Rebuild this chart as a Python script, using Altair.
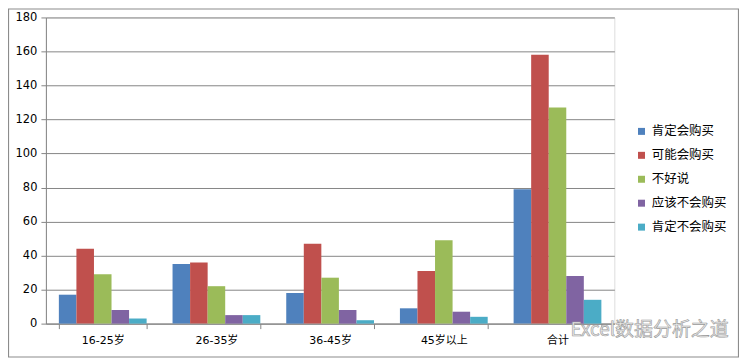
import altair as alt
import pandas as pd

groups = ["16-25岁", "26-35岁", "36-45岁", "45岁以上", "合计"]
series = ["肯定会购买", "可能会购买", "不好说", "应该不会购买", "肯定不会购买"]
colors = ["#4F81BD", "#C0504D", "#9BBB59", "#8064A2", "#4BACC6"]

v_kending = [17, 35, 18, 9, 79]
v_keneng = [44, 36, 47, 31, 158]
v_buhaoshuo = [29, 22, 27, 49, 127]
v_yinggaibu = [8, 5, 8, 7, 28]
v_kendingbu = [3, 5, 2, 4, 14]
all_vals = [v_kending, v_keneng, v_buhaoshuo, v_yinggaibu, v_kendingbu]

rows = []
for s, vals in zip(series, all_vals):
    for g, v in zip(groups, vals):
        rows.append({"group": g, "series": s, "value": v})
df = pd.DataFrame(rows)

FONT = "DejaVu Sans, Noto Sans CJK SC, sans-serif"
W, H = 570, 307

bars = alt.Chart(df).mark_bar(size=17.6, strokeWidth=0).encode(
    x=alt.X("group:N", sort=groups,
            scale=alt.Scale(paddingInner=0.228, paddingOuter=0.114),
            axis=alt.Axis(title=None, labelAngle=0, tickBand="extent", tickSize=5,
                          labelPadding=6, domainColor="#868686", tickColor="#868686",
                          labelFontSize=11, labelColor="#000000", labelFont=FONT, grid=False)),
    xOffset=alt.XOffset("series:N", sort=series, scale=alt.Scale(paddingInner=0, paddingOuter=0)),
    y=alt.Y("value:Q", scale=alt.Scale(domain=[0, 180], nice=False),
            axis=alt.Axis(title=None, values=list(range(0, 181, 20)), tickSize=5,
                          labelPadding=4, domainColor="#868686", tickColor="#868686",
                          gridColor="#868686", grid=True, labelFontSize=11.5,
                          labelColor="#000000", labelFont=FONT)),
    color=alt.Color("series:N", sort=series,
                    scale=alt.Scale(domain=series, range=colors),
                    legend=alt.Legend(title=None, orient="none", legendX=591, legendY=108,
                                      symbolType="square", symbolSize=49, symbolStrokeWidth=0,
                                      labelFontSize=12.5, labelFont="Noto Sans CJK SC",
                                      labelColor="#000000", rowPadding=11, labelOffset=4)),
)

one = pd.DataFrame({"a": [0]})
border = alt.Chart(one).mark_rect(fill="transparent", stroke="#8c8c8c", strokeWidth=1.2).encode(
    x=alt.value(-37.5), x2=alt.value(694.5), y=alt.value(-8.5), y2=alt.value(340.5)
)

watermark = alt.Chart(one).mark_text(
    text="Excel数据分析之道", align="left", baseline="middle", fontSize=19,
    font="Noto Sans CJK SC", fill="#ececec", stroke="#9a9a9a", strokeWidth=0.6
).encode(x=alt.value(526), y=alt.value(313))

chart = alt.layer(border, bars, watermark).properties(
    width=W, height=H,
    autosize=alt.AutoSizeParams(type="none"),
    padding={"left": 38, "top": 9, "right": 125, "bottom": 34},
).configure_view(stroke=None).configure(background="#ffffff")

chart.save("out.html", embed_options={"renderer": "svg", "actions": False})
